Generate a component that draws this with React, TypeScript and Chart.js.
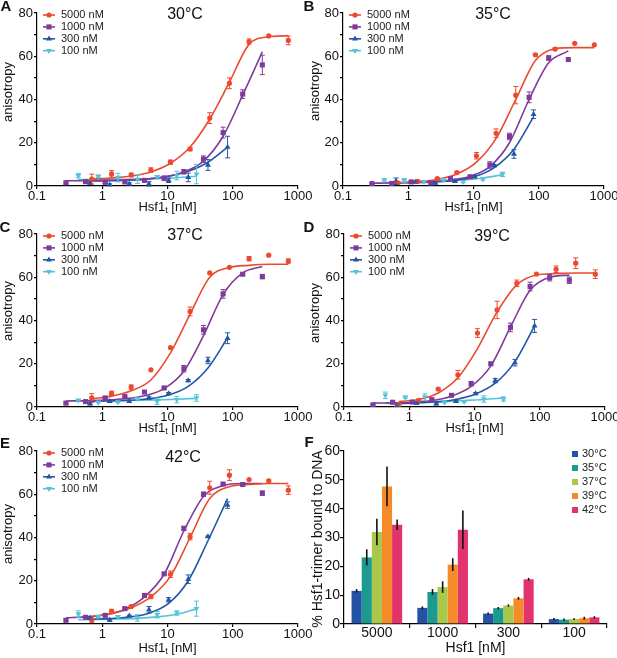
import { useEffect, useRef } from 'react';
import { Chart, registerables } from 'chart.js';

Chart.register(...registerables);

const W = 617;
const H = 658;
const FONT = '"Liberation Sans", Arial, Helvetica, sans-serif';
const INK = '#111';

// Hsf1t concentrations (nM) of each titration, one list per DNA concentration
const conc5000 = [0.69, 1.39, 2.78, 5.56, 11.1, 22.2, 44.4, 88.9, 178, 356, 711];
const conc1000 = [0.278, 0.556, 1.11, 2.22, 4.44, 8.89, 17.8, 35.6, 71.1, 142, 284];
const conc300 = [0.65, 1.3, 2.6, 5.2, 10.4, 20.8, 41.7, 83.3];
const conc100 = [0.43, 0.87, 1.74, 3.47, 6.94, 13.9, 27.8];
const seriesConc = [conc5000, conc1000, conc300, conc100];
const seriesLabels = ['5000 nM', '1000 nM', '300 nM', '100 nM'];
const xTicks = [0.1, 1, 10, 100, 1000];

// each panel: measured anisotropy, error, fitted curve (rows: 5000, 1000, 300, 100 nM)
// A, 30°C
const anisoA = [
  [3.2, 5.6, 5.1, 7.4, 11.0, 17.1, 31.4, 47.5, 66.8, 69.4, 67.3],
  [1.5, 2.0, 1.7, 1.9, 2.6, 3.6, 6.6, 12.4, 24.7, 42.5, 56],
  [1.4, 0.5, 1, 1, 2.6, 4, 9.7, 18],
  [4.8, 4.5, 3.9, 3.2, 4.3, 4.8, 5.5],
];
const errA = [
  [2.3, 1.5, 0.8, 1, 1, 0.8, 2.5, 2.5, 1.2, 0, 2],
  [0.5, 0.5, 0.5, 0.5, 0.5, 1, 1, 1.5, 2.5, 2, 4.5],
  [0.5, 0.5, 0.5, 1, 1, 2, 2.5, 5],
  [1, 0.5, 2, 2, 0.5, 2, 4.5],
];
const fitA = [
  [3.3, 3.7, 4.6, 6.5, 10.5, 18, 31, 48, 65.5, 69, 69.5],
  [2.4, 2.5, 2.6, 2.8, 3.2, 4.2, 6.5, 11.5, 23, 42, 62],
  [2.3, 2.4, 2.7, 3.3, 4.5, 6.8, 11, 18],
  [3, 3, 3.1, 3.2, 3.4, 3.8, 4.5],
];
// B, 35°C
const anisoB = [
  [1.5, 2.2, 3.4, 6.2, 14, 24.4, 42, 60.7, 63.3, 66, 65.3],
  [1.1, 1.2, 1.9, 1.4, 3.4, 4.3, 9.7, 22.9, 41, 59.2, 58.5],
  [2.2, 1.9, 1.4, 2.2, 4.3, 9.4, 14.8, 33.2],
  [2.8, 2.5, 2, 2.8, 2, 3.2, 5.4],
];
const errB = [
  [0.5, 0.5, 0.5, 0.5, 1.5, 2, 4, 0.5, 0.5, 0, 0],
  [0.3, 0.3, 0.5, 0.5, 0.5, 0.5, 1.5, 1.5, 2.5, 1, 0],
  [1.5, 0.5, 0.5, 0.5, 0.5, 0.5, 2, 2],
  [0.5, 1, 0.5, 0.5, 0.5, 0.5, 1],
];
const fitB = [
  [1.5, 2, 3, 5.5, 11, 22, 40, 58, 63.5, 64, 64],
  [1.3, 1.4, 1.6, 2, 2.8, 4.5, 9, 20, 40, 57, 62.5],
  [1.5, 1.6, 1.9, 2.6, 4.3, 8.5, 17, 32],
  [1.6, 1.7, 1.9, 2.2, 2.8, 3.7, 5.2],
];
// C, 37°C
const anisoC = [
  [4.2, 6.3, 9.2, 17.2, 27.5, 44.2, 62, 64.6, 68.6, 70.2, 67.5],
  [1.8, 2.5, 4.2, 4.8, 6.9, 8.8, 17.7, 35.7, 52.3, 61.4, 60.3],
  [1.5, 2.6, 2.6, 4.2, 6.2, 12.2, 21.5, 31.8],
  [3.1, 2.2, 2.3, 3.8, 2.6, 3.4, 4.2],
];
const errC = [
  [2, 1, 1, 0, 0, 2, 0, 0, 1, 0, 1],
  [0.5, 0.5, 0.5, 0.5, 0.5, 0.5, 1.5, 2, 2, 0.5, 1],
  [0.5, 0.5, 0.5, 0.5, 0.5, 0.5, 1.5, 2.5],
  [0.3, 0.3, 0.3, 0.3, 1.5, 1.5, 1.5],
];
const fitC = [
  [3.8, 5, 7.5, 12.5, 25, 43, 60, 64.5, 65.5, 66, 66],
  [2.8, 2.9, 3.2, 3.8, 5.2, 8.5, 16.5, 33, 52, 62, 65],
  [2.6, 2.8, 3.1, 3.8, 5.5, 9.5, 18, 32],
  [2.8, 2.9, 3, 3.1, 3.3, 3.6, 4],
];
// D, 39°C
const anisoD = [
  [1, 3.1, 8.3, 14.9, 34.2, 44.9, 57.2, 61.5, 63.7, 66.5, 61.4],
  [1, 2.2, 2.3, 3.4, 5.4, 10.8, 20, 36.8, 55.7, 59.8, 58.6],
  [0.8, 1.8, 1.5, 2.6, 6.2, 12.2, 20.5, 37.5],
  [5.4, 4.5, 4.6, 2.2, 2.5, 3.7, 3.7],
];
const errD = [
  [0.5, 0.5, 0.5, 2, 2, 4, 1.5, 0, 1.5, 2.5, 2],
  [0.5, 0.5, 0.5, 0.5, 0.5, 1, 0.5, 2, 2, 1.5, 1.5],
  [0.5, 0.5, 0.5, 0.5, 0.5, 1, 1.5, 3],
  [1.5, 0.5, 1.5, 0.3, 0.3, 1.5, 1],
];
const fitD = [
  [2.5, 3.5, 6.5, 13.5, 27, 44, 56.5, 61, 61.7, 62, 62],
  [1.8, 1.9, 2.2, 3, 5, 9.5, 19, 37, 54, 60, 61],
  [1.6, 1.9, 2.4, 3.5, 6, 11, 21, 37.5],
  [1.6, 1.8, 2.1, 2.5, 3, 3.5, 4.2],
];
// E, 42°C
const anisoE = [
  [1.8, 5.8, 8.1, 12.7, 23, 40.4, 63, 68.8, 66.8, 66.2, 61.9],
  [1.7, 3.1, 4, 7.1, 13.2, 23.2, 44.2, 60, 64.7, 64.5, 60.5],
  [2.8, 1.8, 3.8, 6.6, 11.2, 20.7, 40.4, 55],
  [4.6, 3.5, 3.4, 2.8, 4.3, 5.1, 7.1],
];
const errE = [
  [1, 1, 0.5, 1, 1.5, 1.5, 3, 2.5, 0, 0.5, 2],
  [0.5, 0.5, 0.5, 0.5, 0.5, 0.5, 1, 1, 0.5, 0.5, 1],
  [0.5, 0.5, 0.3, 1.5, 1, 2, 0.3, 1.5],
  [1.5, 0.5, 0.5, 1.5, 1.5, 1, 3.5],
];
const fitE = [
  [3.4, 4.8, 7.5, 12.5, 22, 40, 58, 63.5, 64.5, 65, 65],
  [2.9, 3.3, 4.3, 6.8, 12.5, 23, 43, 59, 64, 65, 65],
  [2.2, 2.5, 3.2, 5, 9.5, 20, 38.5, 58],
  [2, 2.1, 2.3, 2.6, 3.3, 4.5, 7],
];

// F: % Hsf1-trimer bound to DNA, per temperature, over DNA concentrations
const dnaLabels = ['5000', '1000', '300', '100'];
const tempLabels = ['30°C', '35°C', '37°C', '39°C', '42°C'];
const bound30 = [11.5, 5.6, 3.6, 1.7];
const bound35 = [23.1, 11.1, 5.5, 1.5];
const bound37 = [31.9, 12.8, 6.4, 1.7];
const bound39 = [47.7, 20.6, 8.9, 2.0];
const bound42 = [34.4, 32.7, 15.5, 2.3];
const boundErr30 = [0.6, 0.5, 0.4, 0.4];
const boundErr35 = [2.8, 1, 0.4, 0.4];
const boundErr37 = [4.6, 2, 0.4, 0.3];
const boundErr39 = [6.9, 2.2, 0.5, 0.5];
const boundErr42 = [1.8, 6.7, 0.5, 0.4];

const seriesColors = ['#ec4a2f', '#7f3b9b', '#2356a6', '#56c3da'];
const markers = [
  { style: 'circle', r: 2.6, rot: 0 },
  { style: 'rect', r: 3.6, rot: 0 },
  { style: 'triangle', r: 3.4, rot: 0 },
  { style: 'triangle', r: 3.4, rot: 180 },
];
const barColors = ['#2452a4', '#1d9a8e', '#a9c74b', '#f58a2b', '#e2346c'];

// plot-area boxes in page pixels
const panels = [
  { letter: 'A', temp: '30°C', aniso: anisoA, err: errA, fit: fitA,
    box: { L: 37, T: 13, R: 298, B: 186, yTitleX: 8, yTitleY: 92, xTitleY: 207, letterX: 6, letterY: 7, tempX: 185, tempY: 15 } },
  { letter: 'B', temp: '35°C', aniso: anisoB, err: errB, fit: fitB,
    box: { L: 343, T: 13, R: 604, B: 186, yTitleX: 315, yTitleY: 91, xTitleY: 207, letterX: 309, letterY: 7, tempX: 493, tempY: 15 } },
  { letter: 'C', temp: '37°C', aniso: anisoC, err: errC, fit: fitC,
    box: { L: 37, T: 234, R: 298, B: 407, yTitleX: 8, yTitleY: 311, xTitleY: 428, letterX: 5, letterY: 228, tempX: 185, tempY: 236 } },
  { letter: 'D', temp: '39°C', aniso: anisoD, err: errD, fit: fitD,
    box: { L: 344, T: 234, R: 605, B: 407, yTitleX: 315, yTitleY: 313, xTitleY: 428, letterX: 309, letterY: 228, tempX: 492, tempY: 237 } },
  { letter: 'E', temp: '42°C', aniso: anisoE, err: errE, fit: fitE,
    box: { L: 37, T: 451, R: 298, B: 624, yTitleX: 8, yTitleY: 534, xTitleY: 648, letterX: 5, letterY: 444, tempX: 183, tempY: 458 } },
];
const boxF = { L: 344, T: 451, R: 607, B: 624, yTitleX: 318, yTitleY: 539, xTitleY: 648, letterX: 309, letterY: 443 };

function drawMarker(ctx: CanvasRenderingContext2D, m: any, x: number, y: number) {
  ctx.beginPath();
  if (m.style === 'circle') {
    ctx.arc(x, y, m.r, 0, Math.PI * 2);
  } else if (m.style === 'rect') {
    const s = m.r * Math.SQRT1_2;
    ctx.rect(x - s, y - s, 2 * s, 2 * s);
  } else {
    let rad = (m.rot * Math.PI) / 180;
    for (let k = 0; k < 3; k++) {
      const px = x + Math.sin(rad) * m.r;
      const py = y - Math.cos(rad) * m.r;
      if (k === 0) ctx.moveTo(px, py);
      else ctx.lineTo(px, py);
      rad += (2 * Math.PI) / 3;
    }
    ctx.closePath();
  }
  ctx.fill();
}

const errorBars = {
  id: 'errorBars',
  afterDatasetsDraw(chart: any) {
    const { ctx } = chart;
    const yScale = chart.scales.y;
    chart.data.datasets.forEach((ds: any, i: number) => {
      if (!ds.errors) return;
      const meta = chart.getDatasetMeta(i);
      ctx.save();
      ctx.strokeStyle = ds.errorColor || ds.borderColor;
      ctx.lineWidth = ds.errorWidth || 1;
      meta.data.forEach((el: any, j: number) => {
        const e = ds.errors[j];
        if (!e) return;
        const raw = ds.data[j];
        const v = typeof raw === 'number' ? raw : raw.y;
        const top = yScale.getPixelForValue(v + e);
        const bot = yScale.getPixelForValue(v - e);
        ctx.beginPath();
        ctx.moveTo(el.x, top);
        ctx.lineTo(el.x, bot);
        if (ds.errorCap) {
          ctx.moveTo(el.x - 2.5, top);
          ctx.lineTo(el.x + 2.5, top);
          ctx.moveTo(el.x - 2.5, bot);
          ctx.lineTo(el.x + 2.5, bot);
        }
        ctx.stroke();
      });
      ctx.restore();
    });
  },
};

// letter, temperature, axis titles and in-plot legend
function decor(box: any, letter: string, temp: string | null, yTitle: string, yTitleSize: number,
  xParts: { text: string; size: number; dy: number }[], legend: (ctx: CanvasRenderingContext2D, chart: any) => void) {
  return {
    id: 'decor',
    afterDraw(chart: any) {
      const { ctx } = chart;
      ctx.save();
      ctx.fillStyle = INK;
      ctx.textBaseline = 'middle';
      ctx.textAlign = 'center';
      ctx.font = `bold 15px ${FONT}`;
      ctx.fillText(letter, box.letterX, box.letterY);
      if (temp) {
        ctx.font = `16px ${FONT}`;
        ctx.fillText(temp, box.tempX, box.tempY);
      }
      ctx.save();
      ctx.translate(box.yTitleX, box.yTitleY);
      ctx.rotate(-Math.PI / 2);
      ctx.font = `${yTitleSize}px ${FONT}`;
      ctx.fillText(yTitle, 0, 0);
      ctx.restore();

      ctx.textAlign = 'left';
      let total = 0;
      xParts.forEach((p) => {
        ctx.font = `${p.size}px ${FONT}`;
        total += ctx.measureText(p.text).width;
      });
      let x = (box.L + box.R) / 2 - total / 2;
      xParts.forEach((p) => {
        ctx.font = `${p.size}px ${FONT}`;
        ctx.fillText(p.text, x, box.xTitleY + p.dy);
        x += ctx.measureText(p.text).width;
      });
      legend(ctx, chart);
      ctx.restore();
    },
  };
}

function axisStyle(size: number, tickLength: number, padding: number) {
  return {
    ticks: { autoSkip: false, maxRotation: 0, padding, color: INK, font: { family: FONT, size } },
    grid: { drawOnChartArea: false, drawTicks: true, tickLength, color: '#000', lineWidth: 1.2 },
    border: { display: true, color: '#000', width: 1.2 },
  };
}

function scatterConfig(p: any): any {
  const b = p.box;
  const datasets: any[] = [];
  seriesConc.forEach((xs, s) => {
    datasets.push({
      label: seriesLabels[s],
      data: xs.map((x, i) => ({ x, y: p.aniso[s][i] })),
      errors: p.err[s],
      errorCap: true,
      showLine: false,
      pointStyle: markers[s].style,
      pointRadius: markers[s].r,
      pointRotation: markers[s].rot,
      pointBorderWidth: 0,
      backgroundColor: seriesColors[s],
      borderColor: seriesColors[s],
    });
  });
  seriesConc.forEach((xs, s) => {
    datasets.push({
      data: xs.map((x, i) => ({ x, y: p.fit[s][i] })),
      showLine: true,
      pointRadius: 0,
      borderColor: seriesColors[s],
      borderWidth: 1.6,
      cubicInterpolationMode: 'monotone',
    });
  });
  const xs = axisStyle(13, 3, 0);
  const ys = axisStyle(13, 3, 1);
  const legend = (ctx: CanvasRenderingContext2D) => {
    ctx.font = `11px ${FONT}`;
    ctx.textAlign = 'left';
    ctx.textBaseline = 'middle';
    seriesLabels.forEach((label, s) => {
      const y = b.T + 2 + s * 11.9;
      const x0 = b.L + 6;
      ctx.strokeStyle = seriesColors[s];
      ctx.lineWidth = 1.6;
      ctx.beginPath();
      ctx.moveTo(x0, y);
      ctx.lineTo(x0 + 12, y);
      ctx.stroke();
      ctx.fillStyle = seriesColors[s];
      drawMarker(ctx, markers[s], x0 + 6, y);
      ctx.fillStyle = '#222';
      ctx.fillText(label, b.L + 24, y);
    });
  };
  return {
    type: 'scatter',
    data: { datasets },
    options: {
      responsive: false,
      animation: false,
      events: [],
      layout: { padding: { left: 0, top: b.T, right: W - b.R, bottom: 0 } },
      plugins: { legend: { display: false }, tooltip: { enabled: false } },
      scales: {
        x: {
          type: 'logarithmic',
          min: 0.1,
          max: 1000,
          afterBuildTicks: (sc: any) => { sc.ticks = xTicks.map((v) => ({ value: v })); },
          afterFit: (sc: any) => { sc.height = H - b.B; sc.paddingLeft = 0; sc.paddingRight = 0; },
          ...xs,
          ticks: { ...xs.ticks, callback: (v: any) => String(v) },
        },
        y: {
          min: 0,
          max: 80,
          afterFit: (sc: any) => { sc.width = b.L; sc.paddingTop = 0; sc.paddingBottom = 0; },
          ...ys,
          ticks: { ...ys.ticks, stepSize: 10, callback: (v: any) => (v % 20 === 0 ? String(v) : '') },
        },
      },
    },
    plugins: [
      errorBars,
      decor(b, p.letter, p.temp, 'anisotropy', 13,
        [{ text: 'Hsf1', size: 13, dy: 0 }, { text: 't', size: 9, dy: 4 }, { text: ' [nM]', size: 13, dy: 0 }],
        legend),
    ],
  };
}

function barConfig(): any {
  const b = boxF;
  const boundValues = [bound30, bound35, bound37, bound39, bound42];
  const boundErrors = [boundErr30, boundErr35, boundErr37, boundErr39, boundErr42];
  const xs = axisStyle(14, 4, -3);
  const ys = axisStyle(14, 4, 0);
  const legend = (ctx: CanvasRenderingContext2D) => {
    ctx.font = `11px ${FONT}`;
    ctx.textAlign = 'left';
    ctx.textBaseline = 'middle';
    tempLabels.forEach((label, k) => {
      const y = 454 + k * 14;
      ctx.fillStyle = barColors[k];
      ctx.fillRect(572, y - 3, 6, 6);
      ctx.fillStyle = '#222';
      ctx.fillText(label, 582, y);
    });
  };
  return {
    type: 'bar',
    data: {
      labels: dnaLabels,
      datasets: boundValues.map((vals, k) => ({
        label: tempLabels[k],
        data: vals,
        errors: boundErrors[k],
        errorColor: '#111',
        errorWidth: 1.6,
        backgroundColor: barColors[k],
        borderWidth: 0,
        categoryPercentage: 0.77,
        barPercentage: 1,
      })),
    },
    options: {
      responsive: false,
      animation: false,
      events: [],
      layout: { padding: { left: 0, top: b.T, right: W - b.R, bottom: 0 } },
      plugins: { legend: { display: false }, tooltip: { enabled: false } },
      scales: {
        x: {
          afterFit: (sc: any) => { sc.height = H - b.B; sc.paddingLeft = 0; sc.paddingRight = 0; },
          ...xs,
          grid: { ...xs.grid, offset: true },
        },
        y: {
          min: 0,
          max: 60,
          afterFit: (sc: any) => { sc.width = b.L; sc.paddingTop = 0; sc.paddingBottom = 0; },
          ...ys,
          ticks: { ...ys.ticks, stepSize: 10 },
        },
      },
    },
    plugins: [
      errorBars,
      decor(b, 'F', null, '% Hsf1-trimer bound to DNA', 14, [{ text: 'Hsf1 [nM]', size: 14, dy: 0 }], legend),
    ],
  };
}

function ChartCanvas({ build }: { build: () => any }) {
  const canvasRef = useRef<HTMLCanvasElement>(null);

  useEffect(() => {
    if (!canvasRef.current) return;
    const chart = new Chart(canvasRef.current, build());
    return () => {
      chart.destroy();
    };
  }, []);

  return (
    <canvas
      ref={canvasRef}
      width={W}
      height={H}
      style={{ position: 'absolute', left: 0, top: 0, width: W, height: H }}
    />
  );
}

export default function App() {
  return (
    <div style={{ position: 'absolute', left: 0, top: 0, width: W, height: H, background: '#fff' }}>
      {panels.map((p) => (
        <ChartCanvas key={p.letter} build={() => scatterConfig(p)} />
      ))}
      <ChartCanvas build={barConfig} />
    </div>
  );
}
